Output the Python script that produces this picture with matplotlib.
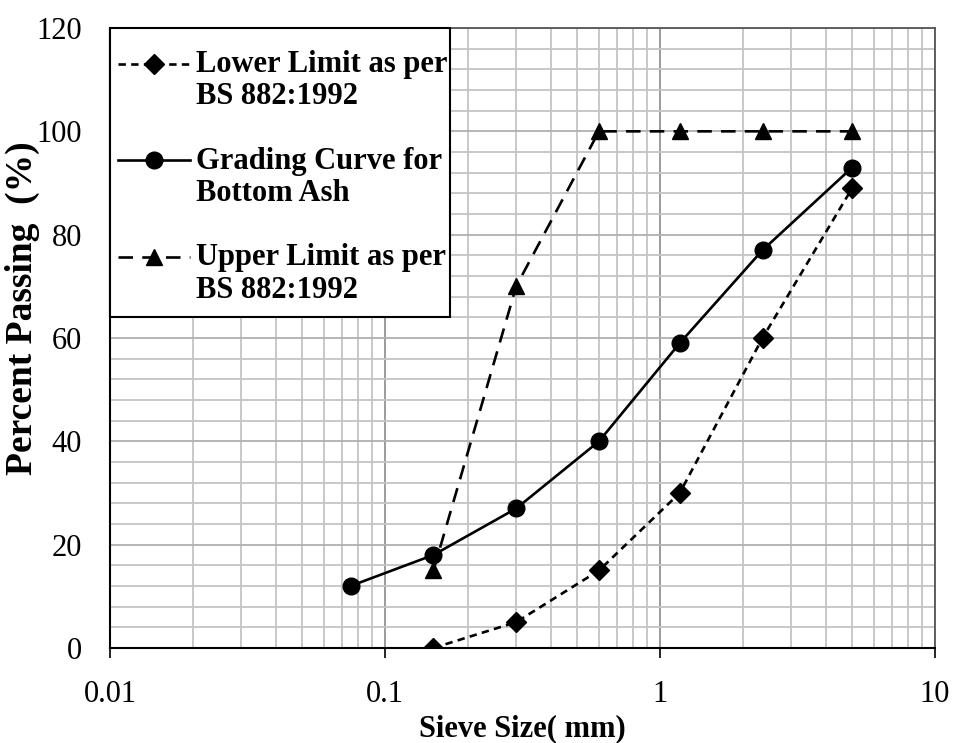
import numpy as np
import matplotlib.pyplot as plt
from matplotlib.patches import Rectangle
from matplotlib.legend_handler import HandlerLine2D
from matplotlib.ticker import LogLocator, MultipleLocator, FixedLocator, FixedFormatter

plt.rcParams.update({
    "font.family": "serif",
    "font.serif": ["Liberation Serif", "DejaVu Serif"],
    "font.size": 22,
})

# ---------- DATA ----------
lower_size = [0.15, 0.3, 0.6, 1.18, 2.36, 5.0]
lower_pass = [0, 5, 15, 30, 60, 89]

ash_size = [0.075, 0.15, 0.3, 0.6, 1.18, 2.36, 5.0]
ash_pass = [12, 18, 27, 40, 59, 77, 93]

upper_size = [0.15, 0.3, 0.6, 1.18, 2.36, 5.0]
upper_pass = [15, 70, 100, 100, 100, 100]

x_ticks = [0.01, 0.1, 1, 10]
x_tick_labels = ["0.01", "0.1", "1", "10"]


# legend handle sits on the first line of a two-line label
class TopLineHandler(HandlerLine2D):
    shift = 12.5

    def create_artists(self, legend, orig_handle, xdescent, ydescent,
                       width, height, fontsize, trans):
        arts = super().create_artists(legend, orig_handle, xdescent, ydescent,
                                      width, height, fontsize, trans)
        for a in arts:
            a.set_ydata(np.asarray(a.get_ydata(), dtype=float) + self.shift)
        return arts


# ---------- PLOT ----------
fig = plt.figure(figsize=(9.55, 7.43), dpi=100)
ax = fig.add_axes([0.1152, 0.1279, 0.8638, 0.8344])

ax.set_xscale("log")
ax.set_xlim(0.01, 10)
ax.set_ylim(0, 120)

ax.xaxis.set_major_locator(FixedLocator(x_ticks))
ax.xaxis.set_major_formatter(FixedFormatter(x_tick_labels))
ax.xaxis.set_minor_locator(LogLocator(base=10, subs=range(2, 10)))
ax.yaxis.set_major_locator(MultipleLocator(20))
ax.yaxis.set_minor_locator(MultipleLocator(4))

ax.grid(which="minor", color="#c4c4c4", lw=1.3)
ax.grid(which="major", axis="y", color="#b0b0b0", lw=1.3)
ax.grid(which="major", axis="x", color="#8a8a8a", lw=1.2)
ax.set_axisbelow(True)

ax.tick_params(which="minor", length=0)
ax.tick_params(which="major", direction="out", length=7, width=1.2, pad=16,
               labelsize=22)
ax.tick_params(axis="y", length=0, pad=20)

for side in ("top", "right"):
    ax.spines[side].set_color("#555555")
    ax.spines[side].set_linewidth(1.3)
for side in ("left", "bottom"):
    ax.spines[side].set_color("black")
    ax.spines[side].set_linewidth(1.5)

ax.plot(lower_size, lower_pass, color="black", lw=1.9, ls=(0, (2.8, 2)),
        marker="D", ms=10, label="Lower Limit as per\nBS 882:1992")
ax.plot(ash_size, ash_pass, color="black", lw=1.9, ls="-",
        marker="o", ms=12, label="Grading Curve for\nBottom Ash")
ax.plot(upper_size, upper_pass, color="black", lw=1.9, ls=(0, (5.5, 3.5)),
        marker="^", ms=11, label="Upper Limit as per\nBS 882:1992")

# legend box drawn separately so its padding can differ per side
ax.add_patch(Rectangle((0, 1), 0.412, -0.466, transform=ax.transAxes,
                       facecolor="white", edgecolor="black", lw=1.5,
                       zorder=4.9, clip_on=False))

leg = ax.legend(loc="upper left", bbox_to_anchor=(0.0097, 0.965),
                borderaxespad=0, borderpad=0, frameon=False,
                prop={"weight": "bold", "size": 22}, handlelength=2.35,
                handletextpad=0.2, labelspacing=1.15,
                handler_map={plt.Line2D: TopLineHandler()})
for t in leg.get_texts():
    t.set_linespacing(1.17)

ax.set_xlabel("Sieve Size( mm)", fontweight="bold", fontsize=22, labelpad=4)
ax.set_ylabel("Percent Passing  (%)", fontweight="bold", fontsize=27)
ax.yaxis.set_label_coords(-0.085, 0.548)

fig.savefig("out.png", dpi=100)
